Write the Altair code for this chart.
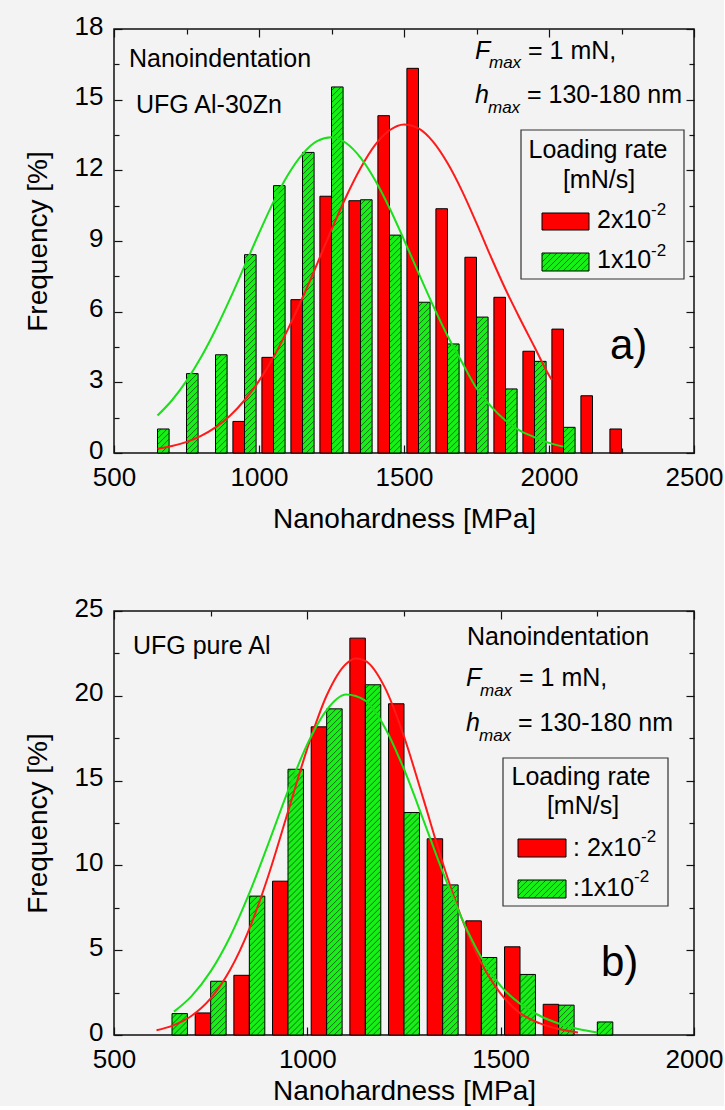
import altair as alt
import pandas as pd

# ---------------- panel a) UFG Al-30Zn ----------------
A_RED_BINS = [950, 1050, 1150, 1250, 1350, 1450, 1550, 1650, 1750, 1850, 1950, 2050, 2150, 2250]
A_RED_VALS = [1.34, 4.06, 6.51, 10.90, 10.71, 14.32, 16.33, 10.37, 8.31, 6.61, 4.32, 5.26, 2.43, 1.02]
A_GREEN_BINS = [650, 750, 850, 950, 1050, 1150, 1250, 1350, 1450, 1550, 1650, 1750, 1850, 1950, 2050]
A_GREEN_VALS = [1.02, 3.37, 4.17, 8.42, 11.35, 12.76, 15.54, 10.75, 9.25, 6.40, 4.63, 5.77, 2.72, 3.89, 1.09]
A_FIT_RED_X = [650, 700, 750, 800, 850, 900, 950, 1000, 1050, 1100, 1150, 1200, 1250, 1300,
               1350, 1400, 1450, 1500, 1550, 1600, 1650, 1700, 1750, 1800, 1850, 1900, 1950, 2000, 2010]
A_FIT_RED_Y = [0.18, 0.30, 0.47, 0.73, 1.09, 1.58, 2.24, 3.06, 4.07, 5.26, 6.59, 8.02, 9.48, 10.87,
               12.09, 13.07, 13.70, 13.95, 13.78, 13.22, 12.31, 11.13, 9.76, 8.32, 6.95, 5.70, 4.50, 3.30, 3.10]
A_FIT_GREEN_X = [650, 700, 750, 800, 850, 900, 950, 1000, 1050, 1100, 1150, 1200, 1250, 1300, 1350,
                 1400, 1450, 1500, 1550, 1600, 1650, 1700, 1750, 1800, 1850, 1900, 1950, 2000, 2050]
A_FIT_GREEN_Y = [1.59, 2.24, 3.06, 4.06, 5.23, 6.54, 7.93, 9.33, 10.66, 11.81, 12.69, 13.24, 13.40, 13.16, 12.54,
                 11.59, 10.40, 9.05, 7.65, 6.27, 4.98, 3.85, 2.75, 1.98, 1.38, 0.95, 0.67, 0.43, 0.27]

# ---------------- panel b) UFG pure Al ----------------
B_RED_BINS = [750, 850, 950, 1050, 1150, 1250, 1350, 1450, 1550, 1650]
B_RED_VALS = [1.30, 3.52, 9.07, 18.17, 23.40, 19.53, 11.57, 6.73, 5.20, 1.81]
B_GREEN_BINS = [650, 750, 850, 950, 1050, 1150, 1250, 1350, 1450, 1550, 1650, 1750]
B_GREEN_VALS = [1.26, 3.17, 8.19, 15.67, 19.23, 20.65, 13.12, 8.85, 4.57, 3.57, 1.76, 0.77]
B_FIT_RED_X = [610, 650, 700, 750, 800, 850, 900, 950, 1000, 1050, 1100, 1125, 1150, 1200,
               1250, 1300, 1350, 1400, 1450, 1500, 1550, 1600, 1650, 1700]
B_FIT_RED_Y = [0.28, 0.54, 1.12, 2.16, 3.83, 6.26, 9.45, 13.16, 16.90, 20.02, 21.88, 22.20, 22.06, 20.51,
               17.60, 13.92, 10.16, 6.84, 4.25, 2.44, 1.29, 0.70, 0.35, 0.15]
B_FIT_GREEN_X = [655, 700, 750, 800, 850, 900, 950, 1000, 1050, 1100, 1150, 1200, 1250, 1300,
                 1350, 1400, 1450, 1500, 1550, 1600, 1650, 1700, 1750]
B_FIT_GREEN_Y = [1.38, 2.28, 3.75, 5.78, 8.36, 11.33, 14.39, 17.15, 19.16, 20.07, 19.71, 18.15, 15.67, 12.69,
                 9.63, 6.85, 4.57, 2.90, 1.85, 1.15, 0.68, 0.35, 0.15]

PW, PH = 580, 424
FONT = "Liberation Sans"
RED = "#ff0000"
GREEN = "#17f017"
RED_LINE = "#ff1a1a"
GREEN_LINE = "#19e019"
BG = "#f3f3f3"
HALF = 40  # bar width in MPa


def bars_df(bins, vals, left):
    d = pd.DataFrame({"bin": bins, "v": vals})
    d["x0"] = d["bin"] - HALF if left else d["bin"]
    d["x1"] = d["bin"] if left else d["bin"] + HALF
    d["z"] = 0.0
    return d


def hatch_rows(rects, kx, ky, step=6.0):
    rows = []
    for x0, x1, y0, y1 in rects:
        w = (x1 - x0) * kx
        h = (y1 - y0) * ky
        c = -w + 2.0
        while c < h:
            a = max(0.0, -c)
            b = min(w, h - c)
            if b > a + 0.3:
                rows.append({"hx0": x0 + a / kx, "hx1": x0 + b / kx,
                             "hy0": y0 + (a + c) / ky, "hy1": y0 + (b + c) / ky})
            c += step
    return rows


def T(t, x, y, size=25, style="normal", align="left"):
    return ("text", t, x, y, size, style, align)


def B(x0, x1, y0, y1, fill, stroke="black", sw=1.0, fo=1.0):
    return ("box", x0, x1, y0, y1, fill, stroke, sw, fo)


def panel(xdom, ydom, xmaj, xmin, ymaj, ymin, rb, rv, gb, gv, frx, fry, fgx, fgy, extras, swatch, xtitle_pad):
    kx = PW / (xdom[1] - xdom[0])
    ky = PH / (ydom[1] - ydom[0])
    xs = alt.Scale(domain=xdom, nice=False, zero=False)
    ys = alt.Scale(domain=ydom, nice=False, zero=False)

    def dx(px):
        return xdom[0] + px / kx

    def dy(py):
        return ydom[1] - py / ky

    rd = bars_df(rb, rv, True)
    gd = bars_df(gb, gv, False)

    main_x = alt.Axis(values=xmaj, ticks=False, domain=False, grid=False, labelFontSize=26,
                      labelPadding=11, labelFont=FONT, labelColor="black", labelFlush=False,
                      title="Nanohardness [MPa]", titleFont=FONT, titleFontSize=28,
                      titleFontWeight="normal", titleColor="black", titlePadding=xtitle_pad, format="d")
    main_y = alt.Axis(values=ymaj, ticks=False, domain=False, grid=False, labelFontSize=26,
                      labelPadding=11, labelOffset=-3, labelFont=FONT, labelColor="black", labelFlush=False,
                      title="Frequency [%]", titleFont=FONT, titleFontSize=28,
                      titleFontWeight="normal", titleColor="black", titlePadding=22, format="d")

    red = alt.Chart(rd).mark_rect(fill=RED, stroke="black", strokeWidth=1).encode(
        x=alt.X("x0:Q", scale=xs, axis=main_x), x2="x1:Q",
        y=alt.Y("v:Q", scale=ys, axis=main_y), y2="z:Q")
    green = alt.Chart(gd).mark_rect(fill=GREEN, stroke="black", strokeWidth=1).encode(
        x=alt.X("x0:Q", scale=xs, axis=None), x2="x1:Q",
        y=alt.Y("v:Q", scale=ys, axis=None), y2="z:Q")

    rects = [(r.x0, r.x1, 0.0, r.v) for r in gd.itertuples()]
    sx0, sx1, sy0, sy1 = swatch
    rects.append((dx(sx0), dx(sx1), dy(sy1), dy(sy0)))
    hd = pd.DataFrame(hatch_rows(rects, kx, ky))
    hatch = alt.Chart(hd).mark_rule(color="#0b2a0b", strokeWidth=0.8, opacity=0.85).encode(
        x=alt.X("hx0:Q", scale=xs, axis=None), x2="hx1:Q",
        y=alt.Y("hy0:Q", scale=ys, axis=None), y2="hy1:Q")

    fit_r = alt.Chart(pd.DataFrame({"x": frx, "y": fry})).mark_line(
        color=RED_LINE, strokeWidth=2, interpolate="monotone").encode(
        x=alt.X("x:Q", scale=xs, axis=None), y=alt.Y("y:Q", scale=ys, axis=None))
    fit_g = alt.Chart(pd.DataFrame({"x": fgx, "y": fgy})).mark_line(
        color=GREEN_LINE, strokeWidth=2, interpolate="monotone").encode(
        x=alt.X("x:Q", scale=xs, axis=None), y=alt.Y("y:Q", scale=ys, axis=None))

    ticks = []
    for orient, vals, size in [("top", xmaj, 8), ("top", xmin, 5), ("bottom", xmaj, 8), ("bottom", xmin, 5)]:
        ticks.append(alt.Chart(rd).mark_point(opacity=0).encode(
            x=alt.X("x0:Q", scale=xs, axis=alt.Axis(orient=orient, offset=-PH, values=vals, tickSize=size,
                                                    labels=False, domain=False, grid=False, title=None,
                                                    tickColor="#111", tickWidth=1.2)),
            y=alt.Y("v:Q", scale=ys, axis=None)))
    for orient, vals, size in [("right", ymaj, 8), ("right", ymin, 5), ("left", ymaj, 8), ("left", ymin, 5)]:
        ticks.append(alt.Chart(rd).mark_point(opacity=0).encode(
            x=alt.X("x0:Q", scale=xs, axis=None),
            y=alt.Y("v:Q", scale=ys, axis=alt.Axis(orient=orient, offset=-PW, values=vals, tickSize=size,
                                                   labels=False, domain=False, grid=False, title=None,
                                                   tickColor="#111", tickWidth=1.2))))

    deco = []
    for e in extras:
        if e[0] == "text":
            _, t, x, y, size, style, align = e
            deco.append(alt.Chart(pd.DataFrame({"x": [dx(x)], "y": [dy(y)]})).mark_text(
                text=t, font=FONT, fontSize=size, fontStyle=style, align=align,
                baseline="alphabetic", color="black").encode(
                x=alt.X("x:Q", scale=xs, axis=None), y=alt.Y("y:Q", scale=ys, axis=None)))
        else:
            _, x0, x1, y0, y1, fill, stroke, sw, fo = e
            deco.append(alt.Chart(pd.DataFrame({"x": [dx(x0)], "x2": [dx(x1)],
                                                "y": [dy(y0)], "y2": [dy(y1)]})).mark_rect(
                fill=fill, fillOpacity=fo, stroke=stroke, strokeWidth=sw).encode(
                x=alt.X("x:Q", scale=xs, axis=None), x2="x2:Q",
                y=alt.Y("y:Q", scale=ys, axis=None), y2="y2:Q"))

    layers = [red, green] + deco + [hatch, fit_r, fit_g] + ticks
    return alt.layer(*layers).resolve_axis(x="independent", y="independent").properties(width=PW, height=PH)


# ---------- annotations panel a (pixel offsets inside the plot) ----------
extras_a = [
    T("Nanoindentation", 15, 38),
    T("UFG Al-30Zn", 22, 84),
    T("F", 361, 30, style="italic"),
    T("max", 375, 39, size=17, style="italic"),
    T("= 1 mN,", 414, 30),
    T("h", 361, 74, style="italic"),
    T("max", 374, 84, size=17, style="italic"),
    T("= 130-180 nm", 413, 74),
    B(407, 570, 101, 250, BG, stroke="#333", sw=1.2, fo=0.0),
    T("Loading rate", 484, 129, align="center"),
    T("[mN/s]", 485, 159, align="center"),
    B(428, 475, 184, 201, RED),
    T("2x10", 483, 199),
    T("-2", 537, 186, size=17),
    B(428, 475, 224, 242, GREEN),
    T("1x10", 483, 239),
    T("-2", 537, 227, size=17),
    T("a)", 496, 330, size=42),
]
swatch_a = (428, 475, 224, 242)

extras_b = [
    T("UFG pure Al", 19, 43),
    T("Nanoindentation", 353, 34),
    T("F", 352, 75, style="italic"),
    T("max", 366, 85, size=17, style="italic"),
    T("= 1 mN,", 405, 75),
    T("h", 352, 120, style="italic"),
    T("max", 365, 130, size=17, style="italic"),
    T("= 130-180 nm", 404, 120),
    B(389, 554, 147, 295, BG, stroke="#333", sw=1.2, fo=0.0),
    T("Loading rate", 467, 174, align="center"),
    T("[mN/s]", 469, 203, align="center"),
    B(404, 452, 228, 246, RED),
    T(": 2x10", 459, 245),
    T("-2", 527, 231, size=17),
    B(404, 452, 269, 287, GREEN),
    T(":1x10", 459, 285),
    T("-2", 520, 271, size=17),
    T("b)", 487, 365, size=42),
]
swatch_b = (404, 452, 269, 287)

top = panel([500, 2500], [0, 18], [500, 1000, 1500, 2000, 2500], [750, 1250, 1750, 2250],
            [0, 3, 6, 9, 12, 15, 18], [1.5, 4.5, 7.5, 10.5, 13.5, 16.5],
            A_RED_BINS, A_RED_VALS, A_GREEN_BINS, A_GREEN_VALS,
            A_FIT_RED_X, A_FIT_RED_Y, A_FIT_GREEN_X, A_FIT_GREEN_Y, extras_a, swatch_a, 15)
bottom = panel([500, 2000], [0, 25], [500, 1000, 1500, 2000], [750, 1250, 1750],
               [0, 5, 10, 15, 20, 25], [2.5, 7.5, 12.5, 17.5, 22.5],
               B_RED_BINS, B_RED_VALS, B_GREEN_BINS, B_GREEN_VALS,
               B_FIT_RED_X, B_FIT_RED_Y, B_FIT_GREEN_X, B_FIT_GREEN_Y, extras_b, swatch_b, 5)

chart = alt.vconcat(top, bottom, spacing=60).properties(
    background=BG, padding={"left": 23, "top": 12, "right": 0, "bottom": 0}
).configure_view(stroke="#111", strokeWidth=1.5)

chart.save("out.html", embed_options={"renderer": "svg", "actions": False})
